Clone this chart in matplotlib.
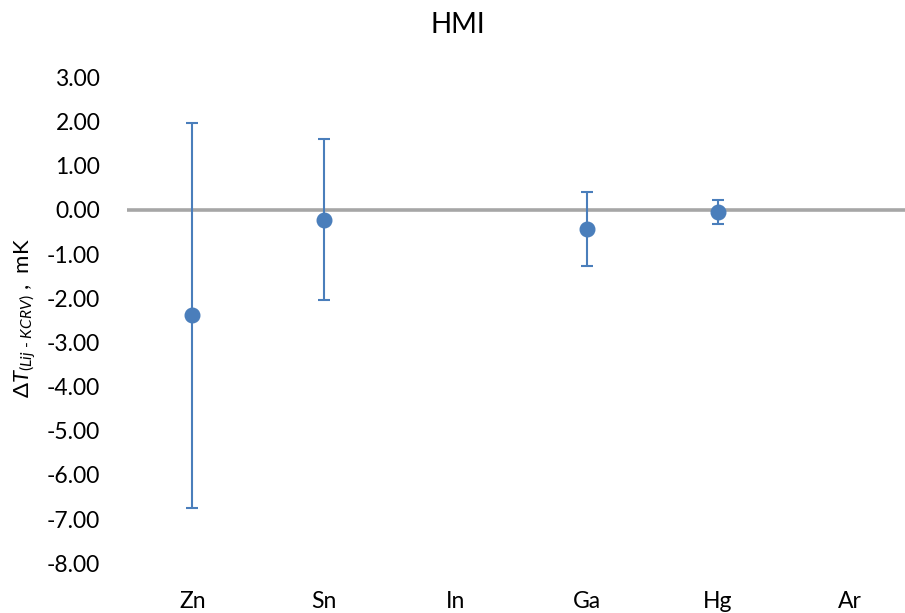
import matplotlib
matplotlib.use('Agg')
from matplotlib import pyplot as plt
import numpy as np

plt.rcParams['font.family'] = ['Lato', 'DejaVu Sans']
plt.rcParams['mathtext.fontset'] = 'custom'
plt.rcParams['mathtext.rm'] = 'Lato'
plt.rcParams['mathtext.it'] = 'Lato:italic'

# data
labels = ['Zn', 'Sn', 'In', 'Ga', 'Hg', 'Ar']
dT = [-2.39, -0.22, np.nan, -0.43, -0.05, np.nan]
U = [4.35, 1.83, np.nan, 0.84, 0.27, np.nan]

blue = '#4a7ebb'

fig = plt.figure(figsize=(9.05, 6.13), dpi=100)
ax = fig.add_axes([126.7/905, 1 - 563.3/613, 1 - 126.7/905, (563.3 - 77.3)/613])

x = np.arange(len(labels))
ax.errorbar(x, dT, yerr=U, fmt='o', color=blue, ms=10.5, elinewidth=1.5,
            capsize=4.5, capthick=1.5, zorder=3)
ax.axhline(0, color='#a6a6a6', lw=2.6, zorder=1)

ax.set_ylim(-8, 3)
ax.set_xlim(-0.5, -0.5 + (905 - 126.7)/131.4)
ax.set_yticks(np.arange(-8, 4, 1))
ax.set_yticklabels(['%.2f' % v for v in np.arange(-8, 4, 1)])
ax.set_xticks(x)
ax.set_xticklabels(labels)
ax.tick_params(axis='y', length=0, pad=19, labelsize=16.5)
ax.tick_params(axis='x', length=0, pad=20, labelsize=16.5)
for s in ax.spines.values():
    s.set_visible(False)

fig.text(458/905, 1 - 25/613, 'HMI', ha='center', va='center', fontsize=20)
fig.text(25/905, 1 - 318/613, '$\\Delta \\mathit{T}_{\\mathit{(Lij\\ \u2010\\ KCRV)}}$ ,  mK',
         rotation=90, ha='center', va='center', fontsize=16)

fig.savefig('out.png', dpi=100)
